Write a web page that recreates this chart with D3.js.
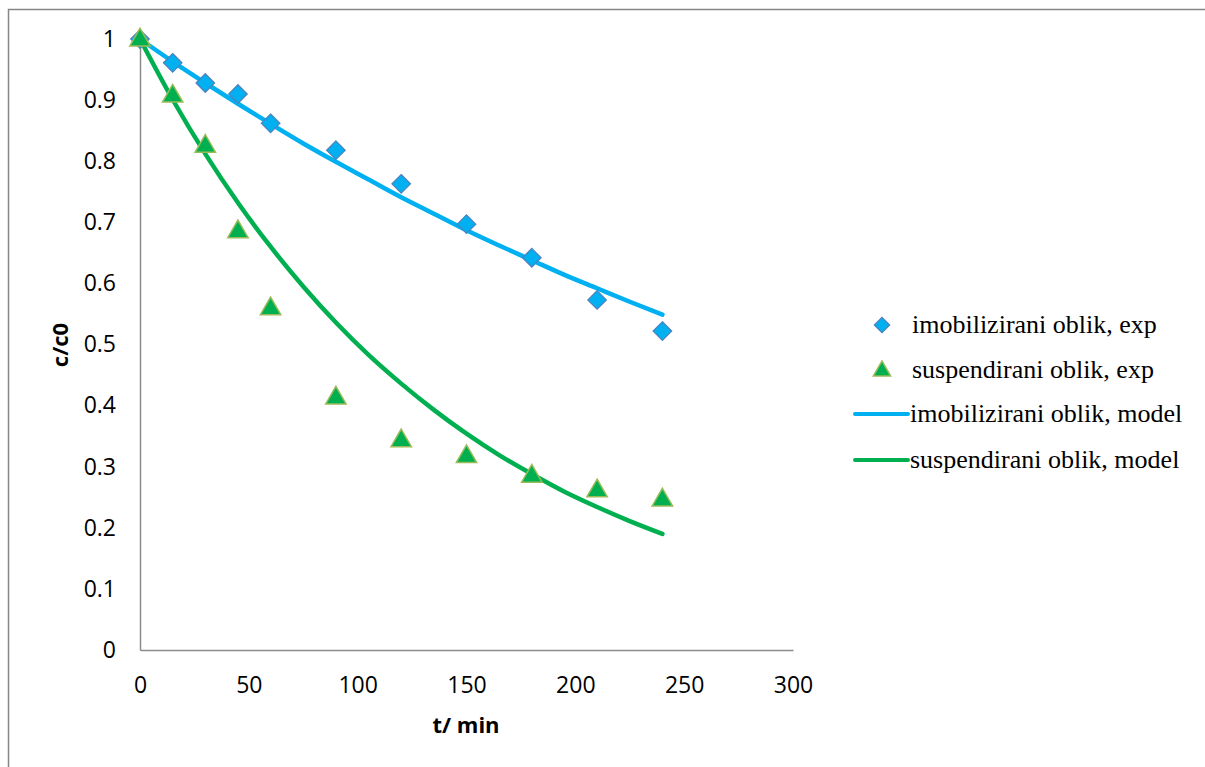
<!DOCTYPE html>
<html><head><meta charset="utf-8">
<script src="https://cdn.jsdelivr.net/npm/d3@7"></script>
<style>body{margin:0;background:#fff}svg{display:block}</style>
</head><body>
<svg id="c" width="1205" height="767"></svg>
<script>
const expTimes = [0, 15, 30, 45, 60, 90, 120, 150, 180, 210, 240];
const imobExp = [1.0, 0.961, 0.928, 0.910, 0.862, 0.818, 0.763, 0.697, 0.642, 0.573, 0.522];
const suspExp = [1.0, 0.908, 0.826, 0.686, 0.560, 0.414, 0.344, 0.318, 0.286, 0.262, 0.247];
const modelTimes = [0, 15, 30, 45, 60, 75, 90, 105, 120, 135, 150, 165, 180, 195, 210, 225, 240];
const imobModel = [1.0, 0.963, 0.928, 0.894, 0.861, 0.829, 0.799, 0.770, 0.741, 0.714, 0.687, 0.662, 0.638, 0.614, 0.592, 0.570, 0.549];
const suspModel = [1.0, 0.901, 0.812, 0.732, 0.660, 0.595, 0.536, 0.483, 0.436, 0.393, 0.354, 0.319, 0.288, 0.259, 0.234, 0.211, 0.190];
const xTicks = [0, 50, 100, 150, 200, 250, 300];
const yTicks = [0, 0.1, 0.2, 0.3, 0.4, 0.5, 0.6, 0.7, 0.8, 0.9, 1];
const legendLabels = ["imobilizirani oblik, exp", "suspendirani oblik, exp", "imobilizirani oblik, model", "suspendirani oblik, model"];

const svg = d3.select("#c");
const x = d3.scaleLinear().domain([0, 300]).range([140, 793]);
const y = d3.scaleLinear().domain([0, 1]).range([650, 39]);
const tickFont = "Open Sans, Liberation Sans, sans-serif";

// outer frame
svg.append("rect").attr("x", 8.5).attr("y", 9.5).attr("width", 1220).attr("height", 780)
  .attr("fill", "none").attr("stroke", "#868686").attr("stroke-width", 1.5);

// axes
const xAxis = svg.append("g").attr("transform", "translate(0,650)")
  .call(d3.axisBottom(x).tickValues(xTicks).tickSize(0).tickPadding(27).tickFormat(d3.format("d")));
const yAxis = svg.append("g").attr("transform", "translate(140,0)")
  .call(d3.axisLeft(y).tickValues(yTicks).tickSize(0).tickPadding(24).tickFormat(d => d === 0 ? "0" : d === 1 ? "1" : d3.format(".1f")(d)));
[xAxis, yAxis].forEach(g => {
  g.select(".domain").attr("stroke", "#8c8c8c").attr("stroke-width", 1.5);
  g.selectAll("text").attr("font-family", tickFont).attr("font-size", 23).attr("fill", "#000");
});

// axis titles
svg.append("text").attr("x", 466).attr("y", 733).attr("text-anchor", "middle")
  .attr("font-family", tickFont).attr("font-weight", "bold").attr("font-size", 22).text("t/ min");
svg.append("text").attr("transform", "translate(68,345) rotate(-90)").attr("text-anchor", "middle")
  .attr("font-family", tickFont).attr("font-weight", "bold").attr("font-size", 22).text("c/c0");

// model lines
const line = d3.line().x(d => x(d[0])).y(d => y(d[1])).curve(d3.curveMonotoneX);
svg.append("path").datum(modelTimes.map((t, i) => [t, imobModel[i]]))
  .attr("d", line).attr("fill", "none").attr("stroke", "#00B0F0").attr("stroke-width", 4.5).attr("stroke-linecap", "round");
svg.append("path").datum(modelTimes.map((t, i) => [t, suspModel[i]]))
  .attr("d", line).attr("fill", "none").attr("stroke", "#00B050").attr("stroke-width", 4.5).attr("stroke-linecap", "round");

// markers
const diamond = d3.symbol().type(d3.symbolDiamond2).size(220);
const tri = d3.symbol().type(d3.symbolTriangle).size(180);
svg.append("g").selectAll("path").data(expTimes.map((t, i) => [t, imobExp[i]])).join("path")
  .attr("d", diamond).attr("transform", d => `translate(${x(d[0])},${y(d[1])})`)
  .attr("fill", "#00B0F0").attr("stroke", "#4F81BD").attr("stroke-width", 1.2);
svg.append("g").selectAll("path").data(expTimes.map((t, i) => [t, suspExp[i]])).join("path")
  .attr("d", tri).attr("transform", d => `translate(${x(d[0])},${y(d[1]) + 1})`)
  .attr("fill", "#00B050").attr("stroke", "#9BBB59").attr("stroke-width", 1.5);

// legend
const legY = [325, 370, 414, 460];
const lg = svg.append("g");
lg.append("path").attr("d", d3.symbol().type(d3.symbolDiamond2).size(150)).attr("transform", `translate(882,${legY[0]})`)
  .attr("fill", "#00B0F0").attr("stroke", "#4F81BD").attr("stroke-width", 1.2);
lg.append("path").attr("d", d3.symbol().type(d3.symbolTriangle).size(130)).attr("transform", `translate(882,${legY[1] + 1})`)
  .attr("fill", "#00B050").attr("stroke", "#9BBB59").attr("stroke-width", 1.5);
lg.append("line").attr("x1", 855).attr("x2", 908).attr("y1", legY[2]).attr("y2", legY[2])
  .attr("stroke", "#00B0F0").attr("stroke-width", 4).attr("stroke-linecap", "round");
lg.append("line").attr("x1", 855).attr("x2", 908).attr("y1", legY[3]).attr("y2", legY[3])
  .attr("stroke", "#00B050").attr("stroke-width", 4).attr("stroke-linecap", "round");
lg.selectAll("text").data(legendLabels).join("text")
  .attr("x", (d, i) => i < 2 ? 912 : 910).attr("y", (d, i) => legY[i]).attr("dy", "0.32em")
  .attr("font-family", "Liberation Serif, Times New Roman, serif").attr("font-size", 26).attr("fill", "#000")
  .text(d => d);
</script>
</body></html>
